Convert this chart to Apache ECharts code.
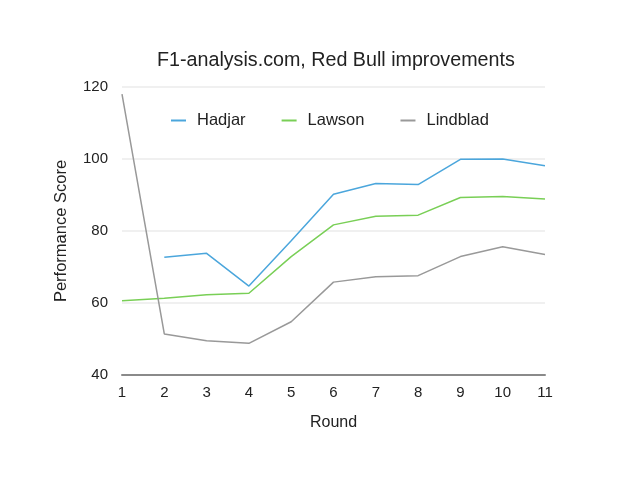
<!DOCTYPE html>
<html><head><meta charset="utf-8">
<script src="https://cdn.jsdelivr.net/npm/echarts@6/dist/echarts.min.js"></script>
<style>html,body{margin:0;padding:0;background:#fff}#c{width:625px;height:484px}</style>
</head><body><div id="c"></div>
<script>
const rounds = ['1','2','3','4','5','6','7','8','9','10','11'];
const hadjar = [null, 72.7, 73.8, 64.7, 77.3, 90.2, 93.2, 92.9, 99.9, 100.0, 98.1];
const lawson = [60.6, 61.3, 62.3, 62.7, 72.9, 81.7, 84.1, 84.4, 89.3, 89.6, 88.9];
const lindblad = [118.0, 51.4, 49.5, 48.8, 54.8, 65.8, 67.3, 67.6, 72.9, 75.6, 73.5];
const yTicks = [40, 60, 80, 100, 120];

const font = '"Liberation Sans", Arial, Helvetica, sans-serif';
const chart = echarts.init(document.getElementById('c'), null, {renderer: 'canvas'});
const mk = (name, data, color) => ({
  name, type: 'line', data, connectNulls: false, showSymbol: false, symbol: 'none',
  lineStyle: {color, width: 1.5}, itemStyle: {color}, animation: false
});
chart.setOption({
  animation: false,
  textStyle: {fontFamily: font},
  title: {
    text: 'F1-analysis.com, Red Bull improvements', left: 152, top: 46,
    textStyle: {fontFamily: font, fontSize: 19.7, fontWeight: 'normal', color: '#222'}
  },
  legend: {
    top: 107, left: 166, icon: 'rect', itemWidth: 15, itemHeight: 2, itemGap: 36,
    textStyle: {fontFamily: font, fontSize: 16.5, color: '#222', padding: [0, 0, 0, 6]},
    data: ['Hadjar', 'Lawson', 'Lindblad']
  },
  grid: {left: 122, right: 80, top: 87, bottom: 109, containLabel: false},
  xAxis: {
    type: 'category', data: rounds, boundaryGap: false,
    name: 'Round', nameLocation: 'middle', nameGap: 40,
    nameTextStyle: {fontFamily: font, fontSize: 16, color: '#222'},
    axisLine: {show: true, lineStyle: {color: '#8a8a8a', width: 2}},
    axisTick: {show: false},
    axisLabel: {fontFamily: font, fontSize: 15, color: '#222', margin: 10},
    splitLine: {show: false}
  },
  yAxis: {
    type: 'value', min: yTicks[0], max: yTicks[yTicks.length - 1], interval: 20,
    name: 'Performance Score', nameLocation: 'middle', nameGap: 52,
    nameTextStyle: {fontFamily: font, fontSize: 16.5, color: '#222'},
    axisLine: {show: false}, axisTick: {show: false},
    axisLabel: {fontFamily: font, fontSize: 15, color: '#222', margin: 14},
    splitLine: {show: true, lineStyle: {color: '#ebebeb', width: 1.5}}
  },
  series: [
    mk('Hadjar', hadjar, '#4ba6dc'),
    mk('Lawson', lawson, '#79cf56'),
    mk('Lindblad', lindblad, '#999999')
  ]
});
</script></body></html>
